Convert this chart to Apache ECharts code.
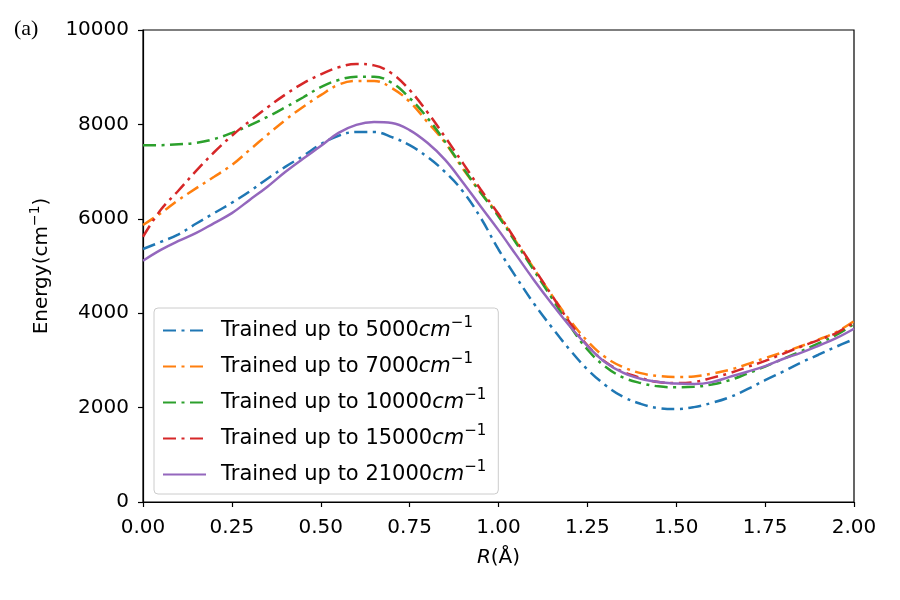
<!DOCTYPE html>
<html>
<head>
<meta charset="utf-8">
<script src="https://cdn.jsdelivr.net/npm/echarts@6/dist/echarts.min.js"></script>
<style>
  html, body { margin: 0; padding: 0; background: #fff; }
  #chart { width: 900px; height: 600px; }
</style>
</head>
<body>
<div id="chart"></div>
<script>
// bond length R (Å)
const rValues = [0.00, 0.05, 0.10, 0.15, 0.20, 0.25, 0.30, 0.35, 0.40, 0.45,
  0.50, 0.55, 0.60, 0.65, 0.70, 0.75, 0.80, 0.85, 0.90, 0.95,
  1.00, 1.05, 1.10, 1.15, 1.20, 1.25, 1.30, 1.35, 1.40, 1.45,
  1.50, 1.55, 1.60, 1.65, 1.70, 1.75, 1.80, 1.85, 1.90, 1.95, 2.00];

// energies (cm^-1)
const e5000 = [5360, 5510, 5670, 5900, 6120, 6340, 6580, 6850, 7100, 7330,
  7580, 7760, 7840, 7840, 7730, 7560, 7310, 6990, 6580, 6020,
  5350, 4760, 4200, 3700, 3230, 2810, 2480, 2230, 2080, 1990,
  1970, 2010, 2100, 2220, 2390, 2580, 2760, 2950, 3120, 3290, 3450];
const e7000 = [5870, 6120, 6400, 6650, 6890, 7140, 7460, 7780, 8090, 8370,
  8620, 8840, 8920, 8920, 8770, 8480, 8050, 7610, 7060, 6560,
  6080, 5510, 4940, 4380, 3860, 3410, 3070, 2860, 2730, 2670,
  2650, 2660, 2720, 2800, 2920, 3050, 3170, 3300, 3440, 3600, 3830];
const e10000 = [7560, 7560, 7580, 7610, 7690, 7820, 7980, 8160, 8360, 8570,
  8790, 8940, 9010, 9010, 8880, 8560, 8140, 7630, 7080, 6550,
  6050, 5480, 4900, 4320, 3740, 3230, 2870, 2640, 2520, 2450,
  2430, 2440, 2490, 2580, 2720, 2870, 3030, 3190, 3360, 3540, 3770];
const e15000 = [5620, 6190, 6600, 7020, 7410, 7760, 8070, 8360, 8630, 8870,
  9060, 9210, 9280, 9250, 9080, 8730, 8260, 7730, 7180, 6620,
  6100, 5530, 4950, 4380, 3810, 3320, 2970, 2760, 2630, 2540,
  2520, 2540, 2630, 2730, 2860, 2990, 3140, 3290, 3430, 3580, 3800];
const e21000 = [5110, 5340, 5530, 5700, 5910, 6120, 6400, 6680, 6990, 7270,
  7540, 7820, 7990, 8050, 8030, 7880, 7610, 7250, 6770, 6260,
  5760, 5230, 4700, 4200, 3730, 3310, 2960, 2740, 2610, 2540,
  2510, 2500, 2540, 2650, 2760, 2880, 3030, 3160, 3310, 3470, 3670];

const xTicks = { min: 0, max: 2, interval: 0.25 };
const yTicks = { min: 0, max: 10000, interval: 2000 };

const seriesDefs = [
  { name: 'Trained up to 5000', values: e5000, color: '#1f77b4', dashed: true },
  { name: 'Trained up to 7000', values: e7000, color: '#ff7f0e', dashed: true },
  { name: 'Trained up to 10000', values: e10000, color: '#2ca02c', dashed: true },
  { name: 'Trained up to 15000', values: e15000, color: '#d62728', dashed: true },
  { name: 'Trained up to 21000', values: e21000, color: '#9467bd', dashed: false },
];

const font = 'DejaVu Sans';
const fs = 20;
const legendFs = 21;
const chart = echarts.init(document.getElementById('chart'), null, { renderer: 'canvas' });

chart.setOption({
  animation: false,
  backgroundColor: '#fff',
  grid: {
    left: 143, right: 46, top: 30, bottom: 98,
    show: true, borderColor: '#000', borderWidth: 1.2,
  },
  xAxis: {
    type: 'value',
    ...xTicks,
    name: '{i|R}(Å)',
    nameLocation: 'middle',
    nameGap: 46,
    nameTextStyle: {
      fontSize: fs, fontFamily: font, color: '#000',
      rich: { i: { fontStyle: 'italic', fontSize: fs, fontFamily: font } },
    },
    axisLine: { lineStyle: { color: '#000', width: 1.2 } },
    axisTick: { inside: false, length: 5, lineStyle: { color: '#000', width: 1.2 } },
    axisLabel: {
      fontSize: fs, fontFamily: font, color: '#000', margin: 16,
      formatter: v => v.toFixed(2),
    },
    splitLine: { show: false },
  },
  yAxis: {
    type: 'value',
    ...yTicks,
    name: '{n|Energy(cm}{s|−1}{n|)}',
    nameLocation: 'middle',
    nameGap: 87,
    nameRotate: 90,
    nameTextStyle: {
      fontSize: fs, fontFamily: font, color: '#000',
      rich: {
        n: { fontSize: fs, fontFamily: font },
        s: { fontSize: 14, fontFamily: font, padding: [0, 0, 14, 0] },
      },
    },
    axisLine: { lineStyle: { color: '#000', width: 1.2 } },
    axisTick: { inside: false, length: 5, lineStyle: { color: '#000', width: 1.2 } },
    axisLabel: {
      fontSize: fs, fontFamily: font, color: '#000', margin: 14,
      formatter: v => String(v),
    },
    splitLine: { show: false },
  },
  legend: {
    orient: 'vertical',
    left: 154,
    top: 308,
    itemWidth: 43,
    itemHeight: 14,
    itemGap: 11,
    padding: [8, 12, 9, 8],
    backgroundColor: 'rgba(255,255,255,0.8)',
    borderColor: '#cccccc',
    borderWidth: 1,
    borderRadius: 4,
    itemStyle: { opacity: 0 },
    formatter: name => name + '{i|cm}{s|−1}',
    textStyle: {
      fontSize: legendFs, fontFamily: font, color: '#000',
      padding: [0, 0, 0, 10],
      rich: {
        i: { fontSize: legendFs, fontFamily: font, fontStyle: 'italic' },
        s: { fontSize: 15, fontFamily: font, padding: [0, 0, 14, 0] },
      },
    },
  },
  graphic: [{
    type: 'text', left: 14, top: 18,
    style: { text: '(a)', fontSize: 22, fontFamily: 'Liberation Serif', fill: '#000' },
  }],
  series: seriesDefs.map(s => ({
    name: s.name,
    type: 'line',
    data: rValues.map((r, i) => [r, s.values[i]]),
    smooth: 0.4,
    symbol: 'none',
    showSymbol: false,
    color: s.color,
    lineStyle: {
      color: s.color,
      width: 2.5,
      type: s.dashed ? [13, 5.5, 3, 5.5] : 'solid',
      cap: 'butt',
    },
  })),
});
</script>
</body>
</html>
